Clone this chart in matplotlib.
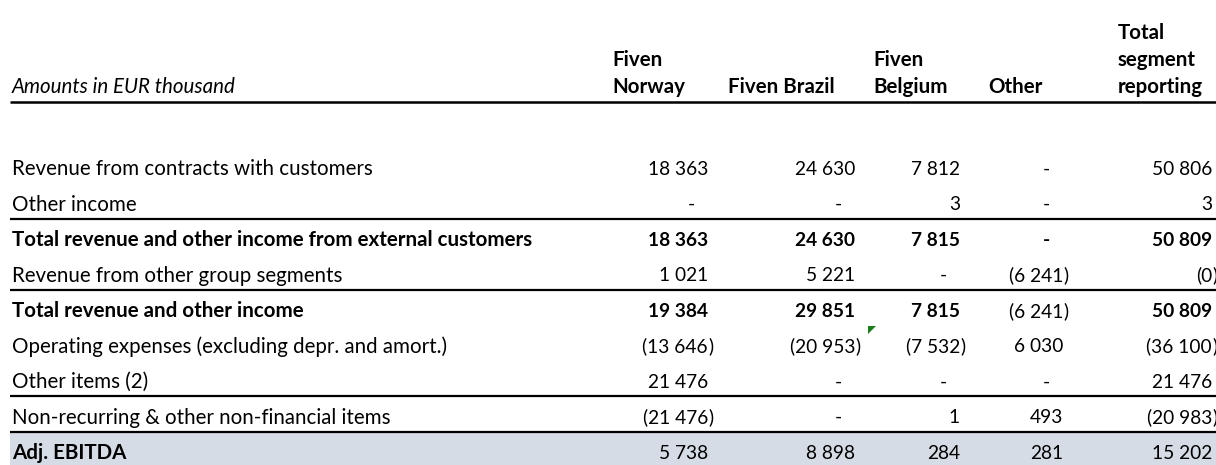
import matplotlib.pyplot as plt
from matplotlib.patches import Rectangle, Polygon

plt.rcParams['font.family'] = ['Lato', 'DejaVu Sans']

# table content
row_labels = [
    "Revenue from contracts with customers",
    "Other income",
    "Total revenue and other income from external customers",
    "Revenue from other group segments",
    "Total revenue and other income",
    "Operating expenses (excluding depr. and amort.)",
    "Other items (2)",
    "Non-recurring & other non-financial items",
    "Adj. EBITDA",
]
col_headers = [["Fiven", "Norway"], ["Fiven Brazil"], ["Fiven", "Belgium"],
               ["Other"], ["Total", "segment", "reporting"]]
unit_label = "Amounts in EUR thousand"

norway = [18363, 0, 18363, 1021, 19384, -13646, 21476, -21476, 5738]
brazil = [24630, 0, 24630, 5221, 29851, -20953, 0, 0, 8898]
belgium = [7812, 3, 7815, 0, 7815, -7532, 0, 1, 284]
other = [0, 0, 0, -6241, -6241, 6030, 0, 493, 281]
total = [50806, 3, 50809, -0.4, 50809, -36100, 21476, -20983, 15202]
values = [norway, brazil, belgium, other, total]

bold_label_rows = [2, 4, 8]
bold_value_rows = [2, 4]
plain_cells = [(4, 3)]          # (row, col) not bold inside a bold row
rule_after = [1, 3, 6, 7]       # rows with a black rule underneath
highlight_row = 8
flag_cell = (5, 2)              # small green marker

# layout (pixels)
W, H = 1216, 465
label_x = 12
head_x = [612, 728, 873, 988, 1118]
num_right = [708, 855, 960, 1063, 1212]
first_bottom = 183
row_h = 35.5
head_base = 87
head_step = 27
head_rule = 102
fs_label = 14.8
fs_num = 13.8
band_color = '#d6dce5'


def fmt(v):
    if v == 0:
        return "-"
    s = f"{abs(round(v)):,}".replace(",", " ")
    if v < 0:
        return "(" + s
    return s


fig = plt.figure(figsize=(W / 100, H / 100), dpi=100)
ax = fig.add_axes([0, 0, 1, 1])
ax.set_xlim(0, W)
ax.set_ylim(H, 0)
ax.axis('off')

# header
ax.text(label_x, head_base, unit_label, fontsize=fs_label, style='italic',
        va='center')
for j, lines in enumerate(col_headers):
    for k, t in enumerate(reversed(lines)):
        ax.text(head_x[j], head_base - k * head_step, t, fontsize=fs_label,
                fontweight='bold', va='center')
ax.plot([10, W], [head_rule, head_rule], color='black', lw=1.8,
        solid_capstyle='butt')

# highlighted last row
hb = first_bottom + highlight_row * row_h
ax.add_patch(Rectangle((10, hb - row_h), W - 10, row_h + 10, color=band_color,
                       lw=0, zorder=0))

for i, lab in enumerate(row_labels):
    bottom = first_bottom + i * row_h
    yc = bottom - 14
    w = 'bold' if i in bold_label_rows else 'normal'
    ax.text(label_x, yc, lab, fontsize=fs_label, fontweight=w, va='center')
    for j, col in enumerate(values):
        v = col[i]
        vw = 'bold' if (i in bold_value_rows and (i, j) not in plain_cells) else 'normal'
        s = fmt(v)
        if s == "-":
            ax.text(num_right[j] - 17, yc, s, fontsize=fs_num, fontweight=vw,
                    va='center', ha='center')
        else:
            ax.text(num_right[j], yc, s, fontsize=fs_num, fontweight=vw,
                    va='center', ha='right')
            if v < 0:
                ax.text(num_right[j], yc, ")", fontsize=fs_num, fontweight=vw,
                        va='center', ha='left')
    if i in rule_after:
        ax.plot([10, W], [bottom, bottom], color='black', lw=1.6,
                solid_capstyle='butt')

# green marker in the corner of a cell
fr, fc = flag_cell
top = first_bottom + (fr - 1) * row_h
x0 = num_right[fc - 1] + 13
ax.add_patch(Polygon([(x0, top + 1), (x0 + 8, top + 1), (x0, top + 9)],
                     closed=True, color='#1a7f1a', lw=0))

fig.savefig('out.png', dpi=100)
